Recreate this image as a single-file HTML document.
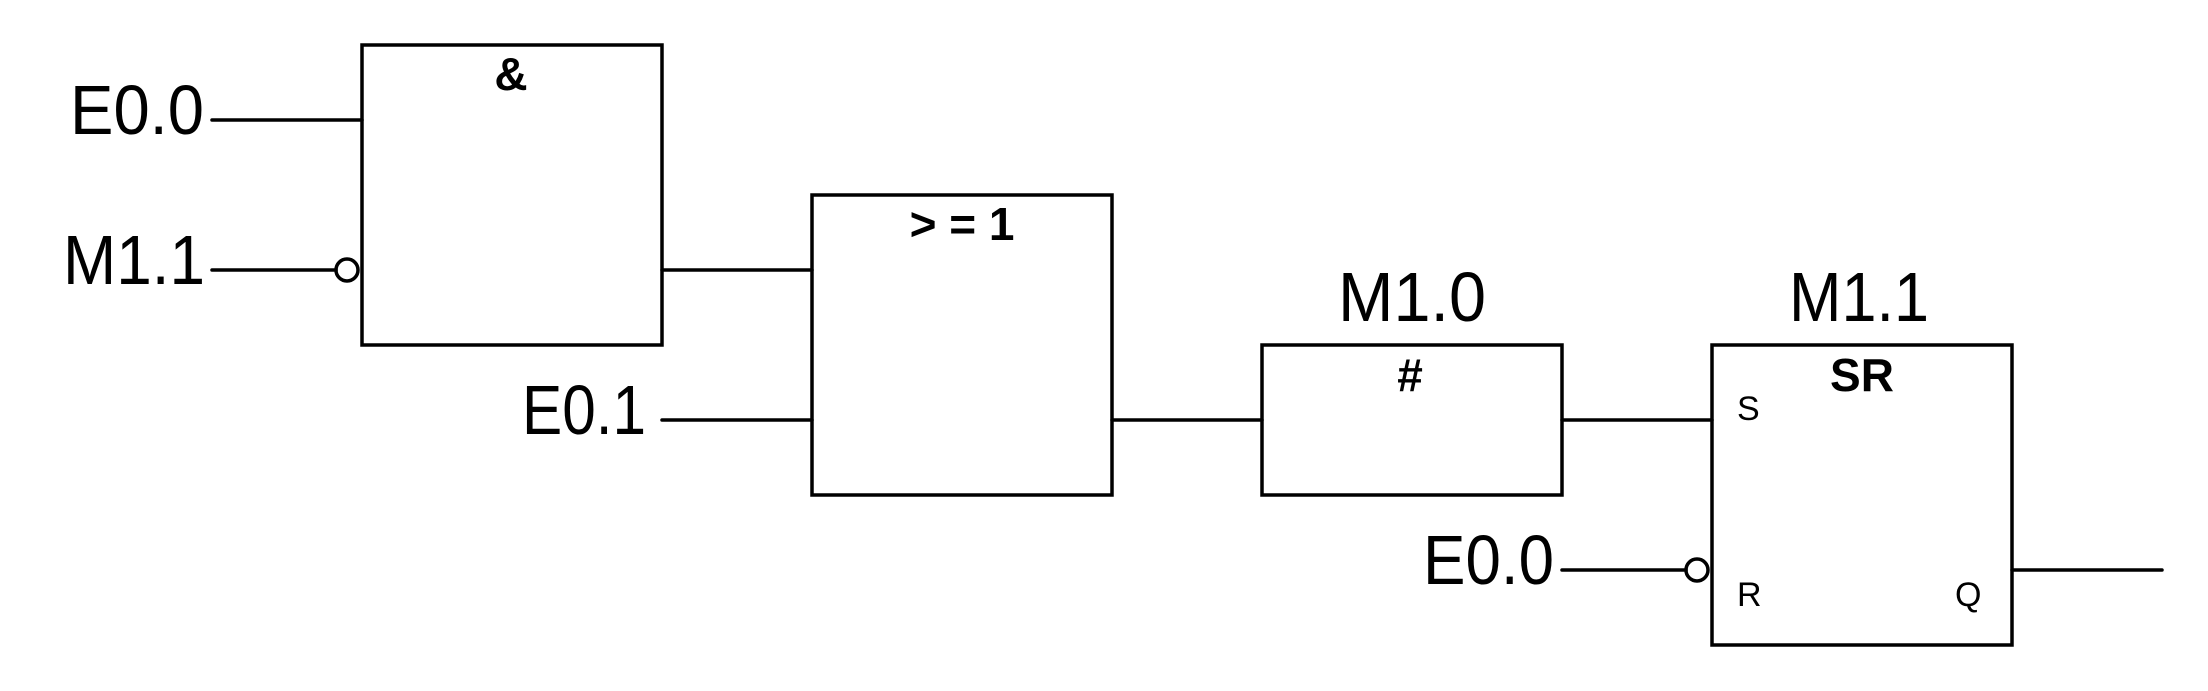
<!DOCTYPE html>
<html><head><meta charset="utf-8"><style>html,body{margin:0;padding:0;background:#fff}svg{display:block}</style></head>
<body>
<svg width="2208" height="691" viewBox="0 0 2208 691" xmlns="http://www.w3.org/2000/svg" font-family="Liberation Sans, sans-serif">
<g fill="none" stroke="#000" stroke-width="3.5" stroke-linecap="round">
<rect x="362" y="45" width="300" height="300"/>
<rect x="812" y="195" width="300" height="300"/>
<rect x="1262" y="345" width="300" height="150"/>
<rect x="1712" y="345" width="300" height="300"/>
<line x1="212" y1="120" x2="362" y2="120"/>
<line x1="212" y1="270" x2="336" y2="270"/>
<circle cx="347" cy="270" r="11"/>
<line x1="662" y1="270" x2="812" y2="270"/>
<line x1="662" y1="420" x2="812" y2="420"/>
<line x1="1112" y1="420" x2="1262" y2="420"/>
<line x1="1562" y1="420" x2="1712" y2="420"/>
<line x1="1562" y1="570" x2="1686" y2="570"/>
<circle cx="1697" cy="570" r="11"/>
<line x1="2012" y1="570" x2="2162" y2="570"/>
</g>
<g fill="#000" font-size="70">
<text x="70" y="134" textLength="134" lengthAdjust="spacingAndGlyphs">E0.0</text>
<text x="63" y="284" textLength="142" lengthAdjust="spacingAndGlyphs">M1.1</text>
<text x="522" y="434" textLength="124" lengthAdjust="spacingAndGlyphs">E0.1</text>
<text x="1338" y="321" textLength="148" lengthAdjust="spacingAndGlyphs">M1.0</text>
<text x="1789" y="321" textLength="140" lengthAdjust="spacingAndGlyphs">M1.1</text>
<text x="1423" y="584" textLength="131" lengthAdjust="spacingAndGlyphs">E0.0</text>
</g>
<g fill="#000" font-weight="bold" font-size="46" text-anchor="middle">
<text x="511" y="90">&amp;</text>
<text x="962" y="240">&gt; = 1</text>
<text x="1410" y="391">#</text>
<text x="1862" y="391">SR</text>
</g>
<g fill="#000" font-size="34">
<text x="1737" y="420">S</text>
<text x="1737" y="606">R</text>
<text x="1955" y="606">Q</text>
</g>
</svg>
</body></html>
